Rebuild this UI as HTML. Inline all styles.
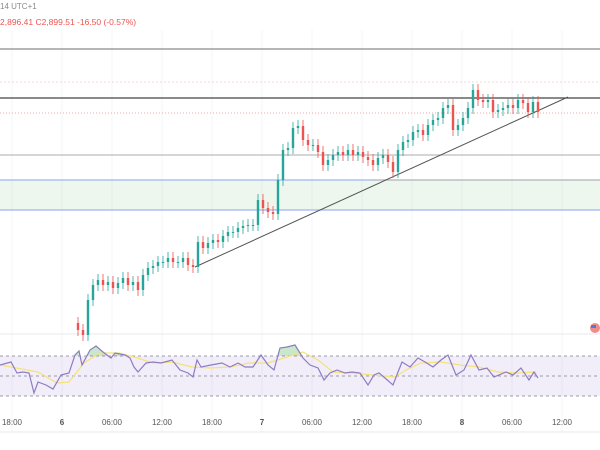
<!DOCTYPE html>
<html><head><meta charset="utf-8"><style>
html,body{margin:0;padding:0;background:#fff;width:600px;height:450px;overflow:hidden}
svg{display:block;font-family:"Liberation Sans",sans-serif}
</style></head><body>
<svg id="chart" width="600" height="450" viewBox="0 0 600 450" xmlns="http://www.w3.org/2000/svg">
<text x="0" y="9" font-size="8" fill="#888">14 UTC+1</text>
<text x="0" y="25" font-size="8.5" fill="#ef5350">2,896.41  C2,899.51  -16.50 (-0.57%)</text>
</svg>
<script>
const closes=[2791.5,2789,2806.5,2814,2816.5,2814,2815.5,2812.5,2815,2817.5,2814,2815.5,2811.5,2819,2822.5,2823.5,2825.5,2825.5,2827.5,2825.5,2825.5,2827.5,2824,2823,2835.5,2832.5,2835,2836.5,2835.5,2838.5,2840.5,2840.5,2842.5,2843.5,2844,2844,2856.5,2852.5,2850.5,2849.5,2866.5,2881.5,2882.5,2892.5,2893.5,2886.5,2884,2884,2880.5,2874,2876.5,2879,2880.5,2879,2881.5,2879,2880.5,2878,2876.5,2874,2877.5,2879,2875.5,2870.5,2881.5,2885.5,2886.5,2890.5,2891.5,2889,2894,2896.5,2897.5,2902.5,2904,2891.5,2894,2897.5,2902.5,2911.5,2906.5,2905.5,2906.5,2900.5,2901.5,2902.5,2904,2902.5,2906.5,2905,2900.5,2905.5,2900.5];
const firstOpen=2795;
const rsiHours=[-7.44,-6.12,-5.4,-4.68,-3.96,-3.36,-2.88,-1.92,-1.08,-0.12,0.84,1.56,2.04,2.4,3.36,4.08,4.92,5.88,6.36,7.56,8.16,8.64,9.12,10.08,10.92,11.88,13.2,14.16,15.12,15.72,16.2,16.68,17.88,19.2,20.16,21.12,21.96,22.92,23.88,24.72,25.44,26.16,27,27.96,28.92,29.76,30.72,31.44,32.16,33,33.96,34.8,35.76,36.72,37.44,38.04,38.76,39.72,40.32,40.8,41.76,42.72,43.56,44.52,45.48,46.32,47.28,48.24,49.08,50.04,51,51.84,53.28,54.12,55.08,56.04,56.64,57.12];
const rsiValues=[61,64,53,54,53,33,44,41,37,51,53,71,75,61,76,80,74,68,73,71,68,59,54,63,64,63,66,56,53,49,66,59,61,63,59,63,59,59,71,61,56,78,79,81,68,61,58,46,53,56,53,54,53,41,51,53,48,41,54,64,59,68,64,59,66,71,51,56,71,56,58,49,54,51,58,46,54,48];
const maHours=[-7.44,-2.88,-0.6,0.84,2.64,4.56,6.84,8.64,10.92,13.2,15.6,17.88,20.16,22.44,24.72,27,28.92,30.72,32.52,34.8,37.2,39.96,41.28,43.08,45.48,47.76,50.04,52.32,54.6,56.88];
const maValues=[61,54,43,44,63,73,73,69,63,64,59,58,59,63,63,69,74,66,54,53,51,49,56,63,64,61,59,54,53,54];
const tickHours=[-6,0,6,12,18,24,30,36,42,48,54,60];
const tickLabels=["18:00","6","06:00","12:00","18:00","7","06:00","12:00","18:00","8","06:00","12:00"];
const levelPrices=[2932,2907.5,2879];
const zoneTop=2866.5, zoneBottom=2851.5, lastPrice=2900, faintLevel=2915.5;
const trendStart=[15.96,2823], trendEnd=[60.72,2908];

const NS="http://www.w3.org/2000/svg";
const svg=document.getElementById('chart');
const X=h=>62+h*50/6;
const Y=p=>(2956.5-p)*2;
const RY=v=>376-(v-50);
const candleStart=1.92, candleStep=0.6;
function mk(tag,attrs,parent){const e=document.createElementNS(NS,tag);for(const k in attrs)e.setAttribute(k,attrs[k]);(parent||svg).appendChild(e);return e;}

tickHours.forEach((h,i)=>{
  const g=mk('line',{x1:X(h),x2:X(h),y1:30,y2:432,stroke:'#f3f4f8','stroke-width':1});
  
  
  const t=mk('text',{x:X(h),y:425,'font-size':8,'text-anchor':'middle',fill:'#555','font-weight':(tickLabels[i].length<3?'bold':'normal')});
  t.textContent=tickLabels[i];
  
  
});
[334,432].forEach(y=>{const s=mk('line',{x1:0,x2:600,y1:y,y2:y,stroke:'#e6e8ee','stroke-width':1});
  
  });

const z=mk('rect',{x:0,y:Y(zoneTop),width:600,height:Y(zoneBottom)-Y(zoneTop),fill:'rgba(76,175,80,0.1)'});


[zoneTop,zoneBottom].forEach(p=>{const l=mk('line',{x1:0,x2:600,y1:Y(p),y2:Y(p),stroke:'#9fb3f5','stroke-width':1.2});
  
  });
const zg=mk('line',{x1:372,x2:600,y1:Y(zoneTop),y2:Y(zoneTop),stroke:'#bbb','stroke-width':1.2});



levelPrices.forEach((p,i)=>{const l=mk('line',{x1:0,x2:600,y1:Y(p),y2:Y(p),stroke:i==1?'#444':(i==0?'#8a8a8a':'#bcbcbc'),'stroke-width':1.2});
  
  });
const fl=mk('line',{x1:0,x2:600,y1:Y(faintLevel),y2:Y(faintLevel),stroke:'#f3d9dc','stroke-width':1,'stroke-dasharray':'2,2'});


const lp=mk('line',{x1:0,x2:600,y1:Y(lastPrice),y2:Y(lastPrice),stroke:'#f4a6a6','stroke-width':1,'stroke-dasharray':'1,2'});



const tl=mk('line',{x1:X(trendStart[0]),y1:Y(trendStart[1]),x2:X(trendEnd[0]),y2:Y(trendEnd[1]),stroke:'#555','stroke-width':1});



let prev=firstOpen;
closes.forEach((c,i)=>{
  const o=prev; prev=c;
  const x=X(candleStart+i*candleStep);
  const up=c>=o; const col=up?'#26a69a':'#ef5350';
  const hi=Math.max(o,c)+3, lo=Math.min(o,c)-3;
  const w=mk('line',{x1:x,x2:x,y1:Y(hi),y2:Y(lo),stroke:col,'stroke-width':0.8});
  
  
  const top=Y(Math.max(o,c)), h=Math.max(1,Math.abs(Y(o)-Y(c)));
  const b=mk('rect',{x:x-1.2,y:top,width:2.4,height:h,fill:col});
  
  
});

const fg=mk('circle',{cx:595,cy:328,r:5,fill:'#f28b8b'});


const fgi=mk('rect',{x:591,y:325,width:5,height:3,fill:'#4a7fd8'});



const band=mk('rect',{x:0,y:RY(70),width:600,height:RY(30)-RY(70),fill:'rgba(126,87,194,0.1)'});


[70,50,30].forEach(v=>{const l=mk('line',{x1:0,x2:600,y1:RY(v),y2:RY(v),stroke:'#9a9aa5','stroke-width':1,'stroke-dasharray':'3,3'});
  
  });
const pts=rsiHours.map((h,i)=>[X(h),RY(rsiValues[i])]);
const defs=mk('defs',{});
const cp=mk('clipPath',{id:'ob'},defs);
mk('rect',{x:0,y:0,width:600,height:RY(70)},cp);
const area=mk('polygon',{points:pts.map(p=>p.join(',')).join(' ')+` ${pts[pts.length-1][0]},${RY(70)} ${pts[0][0]},${RY(70)}`,fill:'rgba(76,175,80,0.3)','clip-path':'url(#ob)'});


const ma=mk('polyline',{points:maHours.map((h,i)=>X(h)+','+RY(maValues[i])).join(' '),fill:'none',stroke:'#f5e17a','stroke-width':1.2});


const rl=mk('polyline',{points:pts.map(p=>p.join(',')).join(' '),fill:'none',stroke:'#8e7cc3','stroke-width':1.2});


</script>
</body></html>
